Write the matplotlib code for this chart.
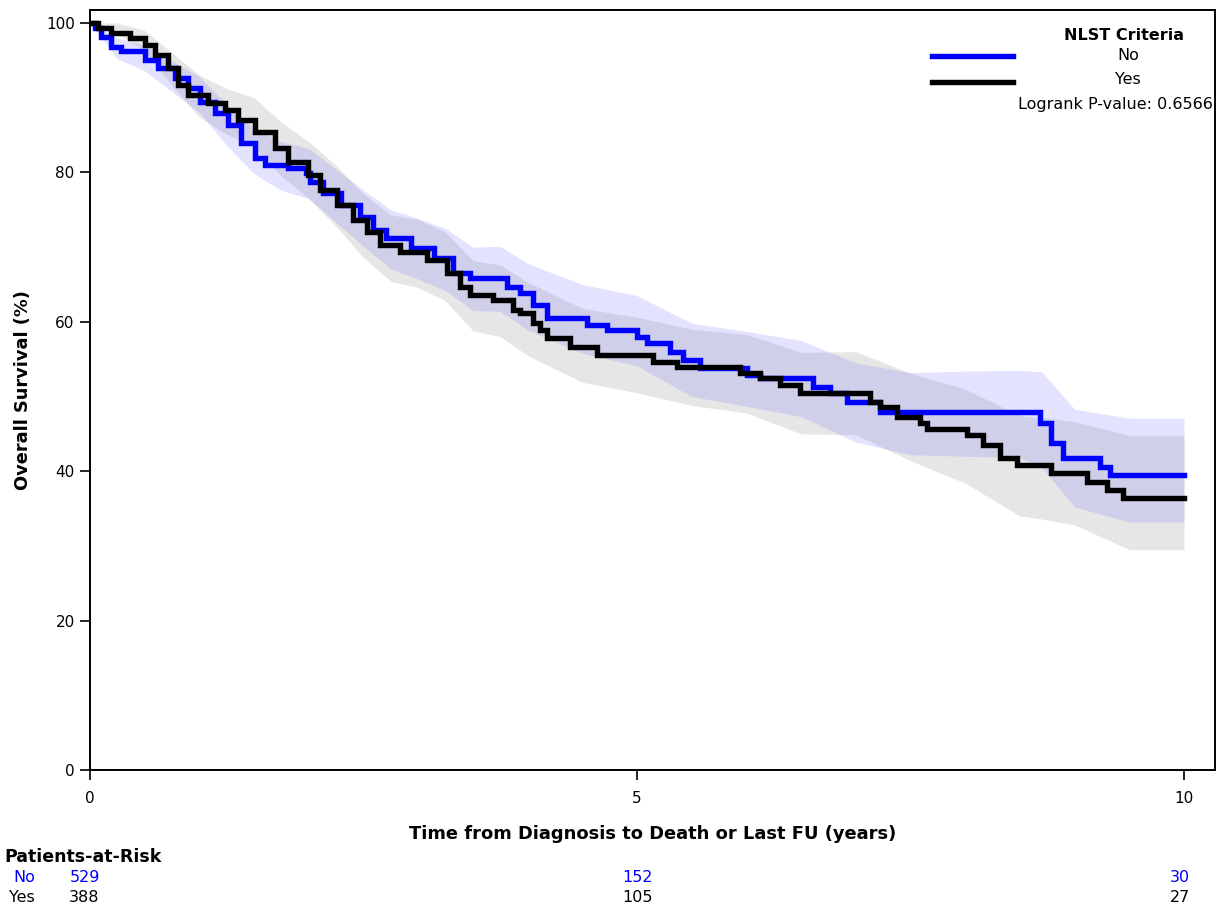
import matplotlib
matplotlib.use("Agg")
import matplotlib.pyplot as plt
import matplotlib.transforms as mtransforms

plt.rcParams['font.family'] = ['DejaVu Sans']

# ---- Kaplan-Meier step data (time in years, survival %) ----
no_t = [0, 0.05, 0.10, 0.19, 0.28, 0.50, 0.62, 0.78, 0.90, 1.01, 1.14, 1.26, 1.38,
        1.51, 1.60, 1.81, 1.97, 2.01, 2.13, 2.29, 2.47, 2.59, 2.71, 2.93, 3.14, 3.32,
        3.47, 3.81, 3.93, 4.05, 4.18, 4.54, 4.73, 5.00, 5.09, 5.30, 5.42, 5.58, 6.01,
        6.12, 6.61, 6.76, 6.92, 7.22, 8.68, 8.78, 8.89, 9.23, 9.32, 10.0]
no_s = [100, 99.3, 98.1, 96.8, 96.3, 95.0, 94.0, 92.6, 91.3, 89.4, 88.0, 86.3, 84.0,
        81.9, 81.0, 80.6, 79.9, 78.7, 77.2, 75.6, 74.0, 72.3, 71.2, 69.9, 68.5, 66.5,
        65.9, 64.7, 63.9, 62.2, 60.5, 59.6, 58.9, 58.0, 57.2, 56.0, 54.9, 53.8, 52.9,
        52.5, 51.3, 50.5, 49.3, 47.9, 46.4, 43.8, 41.8, 40.6, 39.5, 39.5]

yes_t = [0, 0.07, 0.19, 0.37, 0.50, 0.59, 0.71, 0.80, 0.90, 1.08, 1.23, 1.35, 1.51,
         1.69, 1.81, 1.99, 2.10, 2.26, 2.40, 2.53, 2.65, 2.83, 3.08, 3.26, 3.38, 3.47,
         3.68, 3.87, 3.93, 4.05, 4.11, 4.18, 4.39, 4.63, 5.15, 5.37, 5.94, 6.12, 6.31,
         6.49, 7.13, 7.22, 7.38, 7.59, 7.65, 8.02, 8.16, 8.32, 8.47, 8.78, 9.11, 9.30,
         9.44, 10.0]
yes_s = [100, 99.3, 98.7, 98.0, 97.0, 95.7, 94.0, 91.7, 90.4, 89.3, 88.4, 87.0, 85.4,
         83.3, 81.4, 79.7, 77.6, 75.6, 73.6, 72.0, 70.3, 69.3, 68.3, 66.5, 64.7, 63.6,
         62.9, 61.6, 61.2, 59.8, 58.9, 57.8, 56.6, 55.6, 54.6, 54.0, 53.1, 52.5, 51.5,
         50.5, 49.3, 48.6, 47.3, 46.4, 45.6, 44.8, 43.5, 41.8, 40.8, 39.8, 38.6, 37.5,
         36.4, 36.4]

# ---- confidence band knots ----
band_t = [0, 0.25, 0.5, 0.75, 1.0, 1.25, 1.5, 1.75, 2.0, 2.25, 2.5, 2.75, 3.0, 3.25,
          3.5, 3.75, 4.0, 4.5, 5.0, 5.5, 6.0, 6.5, 7.0, 7.5, 8.0, 8.5, 8.7, 9.0, 9.5, 10.0]
yes_lo = [100, 98.5, 96.3, 91.6, 87.4, 85.1, 83.5, 79.5, 76.5, 72.8, 68.6, 65.4, 64.6,
          62.8, 58.8, 58.0, 55.5, 51.9, 50.5, 48.8, 47.8, 45.0, 44.9, 41.4, 38.4, 34.0,
          33.6, 32.8, 29.5, 29.5]
yes_hi = [100, 100, 99.0, 96.0, 93.0, 91.2, 90.0, 86.7, 84.1, 80.9, 77.1, 74.3, 73.7,
          72.0, 68.2, 67.6, 65.3, 61.8, 60.6, 59.0, 58.3, 55.9, 56.0, 53.1, 51.0, 47.4,
          47.2, 46.6, 44.8, 44.8]
no_lo = [100, 95.2, 93.6, 90.8, 88.0, 83.6, 79.8, 77.6, 76.5, 73.3, 70.1, 67.1, 65.7,
         64.2, 61.5, 61.4, 58.9, 55.8, 54.1, 50.0, 48.7, 47.3, 43.9, 42.2, 42.0, 41.8,
         40.5, 35.2, 33.2, 33.2]
no_hi = [100, 98.0, 97.0, 94.9, 92.8, 89.1, 85.9, 84.1, 83.2, 80.4, 77.6, 75.0, 73.8,
         72.5, 70.0, 70.1, 67.8, 65.0, 63.5, 59.8, 58.7, 57.5, 54.5, 53.2, 53.4, 53.5,
         53.3, 48.3, 47.1, 47.1]

# ---- risk table ----
risk_t = [0, 5, 10]
risk_no = [529, 152, 30]
risk_yes = [388, 105, 27]

x_ticks = [0, 5, 10]
y_ticks = [0, 20, 40, 60, 80, 100]

BLUE = '#0000ff'

fig = plt.figure(figsize=(12.16, 9.05), dpi=100)
ax = fig.add_axes([90/1216, 1-770/905, (1215-90)/1216, (770-10)/905])

ax.fill_between(band_t, yes_lo, yes_hi, color='#e6e6e6', lw=0, zorder=1)
ax.fill_between(band_t, no_lo, no_hi, color=(0.45, 0.45, 1.0),
                alpha=0.2, lw=0, zorder=2)

ax.step(no_t, no_s, where='post', color=BLUE, lw=3.9, zorder=3, solid_joinstyle='miter')
ax.step(yes_t, yes_s, where='post', color='black', lw=3.9, zorder=4, solid_joinstyle='miter')

ax.set_xlim(0, (1215-90)/109.4)
ax.set_ylim(0, (770-10)/7.47)
ax.set_xticks(x_ticks)
ax.set_yticks(y_ticks)
ax.tick_params(direction='out', length=7, width=1.2, labelsize=11)
ax.tick_params(axis='x', pad=8)
ax.tick_params(axis='y', pad=4)
for sp in ax.spines.values():
    sp.set_linewidth(1.4)

ax.set_xlabel('Time from Diagnosis to Death or Last FU (years)', fontsize=12.9,
              fontweight='bold', labelpad=14)
ax.set_ylabel('Overall Survival (%)', fontsize=12.8, fontweight='bold', labelpad=10)

# legend (manual, figure coords in pixels)
def fx(px):
    return px/1216
def fy(py):
    return 1 - py/905

fig.text(fx(1184), fy(35), 'NLST Criteria', fontsize=11.5, fontweight='bold',
         ha='right', va='center')
fig.add_artist(plt.Line2D([fx(932), fx(1013)], [fy(56), fy(56)], color=BLUE, lw=3.9))
fig.add_artist(plt.Line2D([fx(932), fx(1013)], [fy(82), fy(82)], color='black', lw=3.9))
fig.text(fx(1128), fy(55), 'No', fontsize=11.5, ha='center', va='center')
fig.text(fx(1128), fy(80), 'Yes', fontsize=11.5, ha='center', va='center')
fig.text(fx(1213), fy(104), 'Logrank P-value: 0.6566', fontsize=11.5, ha='right', va='center')

# risk table
fig.text(fx(4), fy(857), 'Patients-at-Risk', fontsize=12.5, fontweight='bold',
         ha='left', va='center')
fig.text(fx(35), fy(877), 'No', fontsize=11.5, color=BLUE, ha='right', va='center')
fig.text(fx(35), fy(897), 'Yes', fontsize=11.5, color='black', ha='right', va='center')
trans = mtransforms.blended_transform_factory(ax.transData, fig.transFigure)
for t, n1, n2 in zip(risk_t, risk_no, risk_yes):
    xx = t
    if t == risk_t[0]:
        xx = t - 0.05
    if t == risk_t[-1]:
        xx = t - 0.04
    ax.text(xx, fy(877), str(n1), transform=trans, fontsize=11.5, color=BLUE,
            ha='center', va='center', clip_on=False)
    ax.text(xx, fy(897), str(n2), transform=trans, fontsize=11.5, color='black',
            ha='center', va='center', clip_on=False)

fig.savefig('out.png', dpi=100)
